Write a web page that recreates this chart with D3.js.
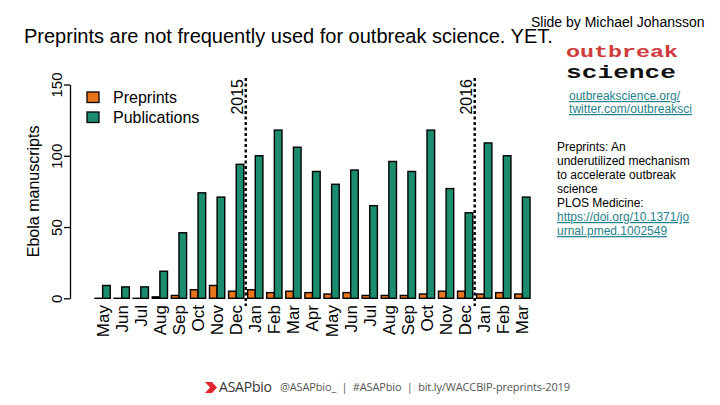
<!DOCTYPE html>
<html>
  <head>
    <meta charset="utf-8" />
    <script src="https://cdn.jsdelivr.net/npm/d3@7"></script>
    <style>
      body {
        margin: 0;
        background: #fff;
      }
      svg {
        display: block;
        font-family: "Liberation Sans", Arial, sans-serif;
      }
      .link {
        fill: #1f7f8c;
        text-decoration: underline;
      }
    </style>
  </head>
  <body>
    <svg id="chart" width="720" height="405"></svg>

    <script>
      // months from May 2014 to Mar 2016
      const months = ["May", "Jun", "Jul", "Aug", "Sep", "Oct", "Nov", "Dec",
        "Jan", "Feb", "Mar", "Apr", "May", "Jun", "Jul", "Aug", "Sep", "Oct", "Nov", "Dec",
        "Jan", "Feb", "Mar"];
      const preprints = [0, 0, 0, 1, 2, 6, 9, 5, 6, 4, 5, 4, 3, 4, 2, 2, 2, 3, 5, 5, 3, 4, 3];
      const publications = [9, 8, 8, 19, 46, 74, 71, 94, 100, 118, 106, 89, 80, 90, 65, 96, 89, 118, 77, 60, 109, 100, 71];
      const seriesNames = ["Preprints", "Publications"];
      const seriesColors = ["#e8741c", "#1b8c6e"];
      const yTicks = [0, 50, 100, 150];
      const yearLabels = ["2015", "2016"];
      const yearStarts = [8, 20]; // index of January

      const svg = d3.select("#chart");
      svg.append("rect").attr("width", 720).attr("height", 405).attr("fill", "#fff");

      const idx = months.map((d, i) => i);
      const x = d3.scaleBand().domain(idx).range([93.1, 93.1 + 23 * 19.08])
        .paddingInner(0.2).paddingOuter(0.1);
      const xs = d3.scaleBand().domain(seriesNames).range([0, x.bandwidth()]);
      const y = d3.scaleLinear().domain([0, 150]).range([298.3, 84.5]);

      // bars
      const groups = svg.append("g").selectAll("g").data(idx).join("g")
        .attr("transform", (i) => `translate(${x(i)},0)`);
      groups.selectAll("rect")
        .data((i) => [preprints[i], publications[i]].map((v, k) => ({ v, k })))
        .join("rect")
        .attr("x", (d) => xs(seriesNames[d.k]))
        .attr("width", xs.bandwidth())
        .attr("y", (d) => y(d.v))
        .attr("height", (d) => Math.max(0.01, y(0) - y(d.v)))
        .attr("fill", (d) => seriesColors[d.k])
        .attr("stroke", "#000")
        .attr("stroke-width", 1.4);

      // y axis
      const yAxis = svg.append("g").attr("transform", "translate(70,0)")
        .call(d3.axisLeft(y).tickValues(yTicks).tickSize(6).tickSizeOuter(0));
      yAxis.select(".domain").attr("stroke-width", 1.3);
      yAxis.selectAll(".tick line").attr("stroke-width", 1.3);
      yAxis.selectAll(".tick text")
        .attr("transform", "rotate(-90)")
        .attr("x", 0).attr("y", -8).attr("dy", 0)
        .attr("text-anchor", "middle")
        .attr("font-family", "Liberation Sans, Arial, sans-serif")
        .attr("font-size", 15).attr("fill", "#000");

      svg.append("text")
        .attr("transform", `translate(39,${(y(0) + y(150)) / 2}) rotate(-90)`)
        .attr("text-anchor", "middle")
        .attr("font-size", 16)
        .text("Ebola manuscripts");

      // month labels
      svg.append("g").selectAll("text").data(idx).join("text")
        .attr("transform", (i) => `translate(${x(i) + x.bandwidth() / 2},305) rotate(-90)`)
        .attr("text-anchor", "end")
        .attr("dy", "0.35em")
        .attr("font-size", 17)
        .text((i) => months[i]);

      // year separators
      yearStarts.forEach((s, j) => {
        const lx = (x(s - 1) + x.bandwidth() + x(s)) / 2;
        svg.append("line")
          .attr("x1", lx).attr("x2", lx)
          .attr("y1", 78).attr("y2", 306)
          .attr("stroke", "#000")
          .attr("stroke-width", 2.4)
          .attr("stroke-dasharray", "3,2.5");
        svg.append("text")
          .attr("transform", `translate(${lx - 3},79) rotate(-90)`)
          .attr("text-anchor", "end")
          .attr("font-size", 16)
          .text(yearLabels[j]);
      });

      // legend
      const legend = svg.append("g").selectAll("g").data(seriesNames).join("g")
        .attr("transform", (d, i) => `translate(87,${92 + i * 20})`);
      legend.append("rect")
        .attr("width", 12).attr("height", 10.5)
        .attr("fill", (d, i) => seriesColors[i])
        .attr("stroke", "#000").attr("stroke-width", 1.3);
      legend.append("text")
        .attr("x", 26).attr("y", 11)
        .attr("font-size", 16)
        .text((d) => d);

      // title and side notes
      svg.append("text")
        .attr("x", 24).attr("y", 43)
        .attr("font-size", 20)
        .text("Preprints are not frequently used for outbreak science. YET.");

      svg.append("text")
        .attr("x", 531).attr("y", 27)
        .attr("font-size", 14)
        .text("Slide by Michael Johansson");

      // outbreak science logo
      svg.append("text")
        .attr("x", 566).attr("y", 57)
        .attr("font-family", "Liberation Mono, monospace")
        .attr("font-weight", "bold")
        .attr("font-size", 17)
        .attr("fill", "#cf3b3b")
        .attr("textLength", 112)
        .attr("lengthAdjust", "spacingAndGlyphs")
        .text("outbreak");
      svg.append("text")
        .attr("x", 566).attr("y", 78)
        .attr("font-family", "Liberation Mono, monospace")
        .attr("font-weight", "bold")
        .attr("font-size", 18)
        .attr("fill", "#111")
        .attr("textLength", 110)
        .attr("lengthAdjust", "spacingAndGlyphs")
        .text("science");

      svg.append("text").attr("class", "link")
        .attr("x", 569).attr("y", 100).attr("font-size", 12)
        .attr("textLength", 111)
        .text("outbreakscience.org/");
      svg.append("text").attr("class", "link")
        .attr("x", 569).attr("y", 113).attr("font-size", 12)
        .attr("textLength", 123)
        .text("twitter.com/outbreaksci");

      const note = [
        ["Preprints: An", false],
        ["underutilized mechanism", false],
        ["to accelerate outbreak", false],
        ["science", false],
        ["PLOS Medicine:", false],
        ["https://doi.org/10.1371/jo", true],
        ["urnal.pmed.1002549", true],
      ];
      svg.append("g").selectAll("text").data(note).join("text")
        .attr("class", (d) => (d[1] ? "link" : null))
        .attr("x", 557)
        .attr("y", (d, i) => 150.5 + i * 14.1)
        .attr("font-size", 12)
        .text((d) => d[0]);

      // footer
      svg.append("path")
        .attr("d", "M205,382 L212,382 L217,387.5 L212,393 L205,393 L210,387.5 Z")
        .attr("fill", "#e3262d");
      svg.append("text")
        .attr("x", 219).attr("y", 392)
        .attr("font-family", "Open Sans, sans-serif")
        .attr("font-size", 14)
        .attr("fill", "#333")
        .attr("textLength", 53)
        .text("ASAPbio");
      svg.append("text")
        .attr("x", 280).attr("y", 390.5)
        .attr("font-family", "Open Sans, sans-serif")
        .attr("font-size", 11)
        .attr("fill", "#555")
        .attr("textLength", 290)
        .attr("xml:space", "preserve")
        .text("@ASAPbio_  |  #ASAPbio  |  bit.ly/WACCBIP-preprints-2019");
    </script>
  </body>
</html>
